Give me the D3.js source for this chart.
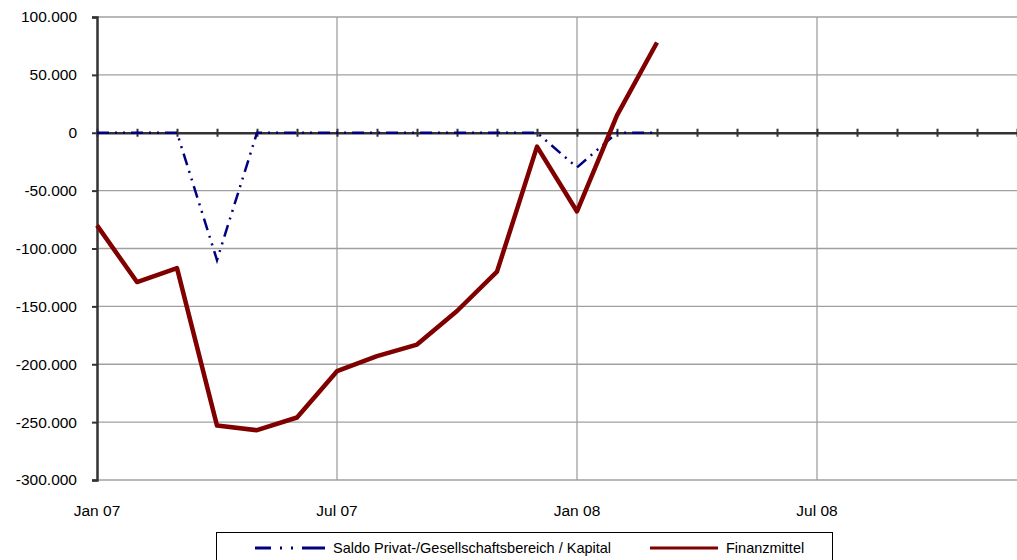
<!DOCTYPE html>
<html>
<head>
<meta charset="utf-8">
<script src="https://cdn.jsdelivr.net/npm/d3@7"></script>
<style>
body{margin:0;background:#fff;}
text{font-family:"Liberation Sans",Arial,sans-serif;fill:#000;}
</style>
</head>
<body>
<div id="chart"></div>
<script>
// months on the category axis
var months = ["Jan 07","Feb 07","Mar 07","Apr 07","May 07","Jun 07","Jul 07","Aug 07","Sep 07","Oct 07","Nov 07","Dec 07",
              "Jan 08","Feb 08","Mar 08","Apr 08","May 08","Jun 08","Jul 08","Aug 08","Sep 08","Oct 08","Nov 08","Dec 08"];
var xLabels = ["Jan 07","Jul 07","Jan 08","Jul 08"];
var yTicks = [100000,50000,0,-50000,-100000,-150000,-200000,-250000,-300000];

// Jan 07 .. Mar 08
var saldo = [0,0,0,-110000,0,0,0,0,0,0,0,0,-30000,0,0];
var finanzmittel = [-80000,-129000,-117000,-253000,-257000,-246000,-206000,-193000,-183000,-154000,-120000,-12000,-68000,15000,78000];

var w = 1017, h = 560;
var pLeft = 97, pRight = 1017, pTop = 17, pBottom = 480;

var svg = d3.select("#chart").append("svg")
  .attr("width", w)
  .attr("height", h);

var x = d3.scalePoint()
  .domain(months)
  .range([pLeft, pRight]);

var y = d3.scaleLinear()
  .domain([-300000, 100000])
  .range([pBottom, pTop]);

var de = d3.formatLocale({decimal: ",", thousands: ".", grouping: [3], currency: ["", " €"], minus: "-"});
var fmt = de.format(",d");

// horizontal gridlines
svg.append("g")
  .selectAll("line")
  .data(yTicks.filter(d => d != 0))
  .enter()
  .append("line")
  .attr("x1", pLeft).attr("x2", pRight)
  .attr("y1", d => y(d)).attr("y2", d => y(d))
  .attr("stroke", "#a0a0a0")
  .attr("stroke-width", 1.3);

// vertical gridlines
svg.append("g")
  .selectAll("line")
  .data(xLabels.slice(1))
  .enter()
  .append("line")
  .attr("x1", d => x(d)).attr("x2", d => x(d))
  .attr("y1", pTop).attr("y2", pBottom)
  .attr("stroke", "#a0a0a0")
  .attr("stroke-width", 1.3);

// y axis
var yAxis = svg.append("g")
  .attr("transform", "translate(" + pLeft + ",0)")
  .call(d3.axisLeft(y).tickValues(yTicks).tickFormat(fmt).tickSize(5).tickPadding(15));
yAxis.select(".domain").attr("stroke", "#333").attr("stroke-width", 2.5);
yAxis.selectAll(".tick line").attr("stroke", "#333").attr("stroke-width", 2);
yAxis.selectAll("text").style("font-size", "15.5px").attr("font-family", null);

// category axis crossing at zero
var xAxis = svg.append("g")
  .attr("transform", "translate(0," + y(0) + ")")
  .call(d3.axisBottom(x).tickSize(0).tickFormat(""));
xAxis.select(".domain").attr("stroke", "#333").attr("stroke-width", 2.5);
xAxis.selectAll(".tick line").attr("y1", -4).attr("y2", 4)
  .attr("stroke", "#333").attr("stroke-width", 2);

// labels at the bottom
svg.append("g")
  .selectAll("text")
  .data(xLabels)
  .enter()
  .append("text")
  .attr("x", d => x(d))
  .attr("y", 516)
  .attr("text-anchor", "middle")
  .style("font-size", "15.5px")
  .text(d => d);

var line = d3.line()
  .x((d, i) => x(months[i]))
  .y(d => y(d));

svg.append("path")
  .datum(saldo)
  .attr("d", line)
  .attr("fill", "none")
  .attr("stroke", "#000080")
  .attr("stroke-width", 2.5)
  .attr("stroke-dasharray", "12,6,2,6,2,6");

svg.append("path")
  .datum(finanzmittel)
  .attr("d", line)
  .attr("fill", "none")
  .attr("stroke", "#800000")
  .attr("stroke-width", 4.5)
  .attr("stroke-linejoin", "round");

// legend
var legend = svg.append("g");
legend.append("rect")
  .attr("x", 216.5).attr("y", 532.5)
  .attr("width", 616).attr("height", 40)
  .attr("fill", "#fff")
  .attr("stroke", "#000")
  .attr("stroke-width", 1);

legend.append("line")
  .attr("x1", 255).attr("x2", 325).attr("y1", 548).attr("y2", 548)
  .attr("stroke", "#000080").attr("stroke-width", 3)
  .attr("stroke-dasharray", "16,9,2,9,2,9,24");
legend.append("text")
  .attr("x", 333).attr("y", 553)
  .style("font-size", "14.5px")
  .text("Saldo Privat-/Gesellschaftsbereich / Kapital");

legend.append("line")
  .attr("x1", 650).attr("x2", 718).attr("y1", 548).attr("y2", 548)
  .attr("stroke", "#800000").attr("stroke-width", 3);
legend.append("text")
  .attr("x", 726).attr("y", 553)
  .style("font-size", "14.5px")
  .text("Finanzmittel");
</script>
</body>
</html>
